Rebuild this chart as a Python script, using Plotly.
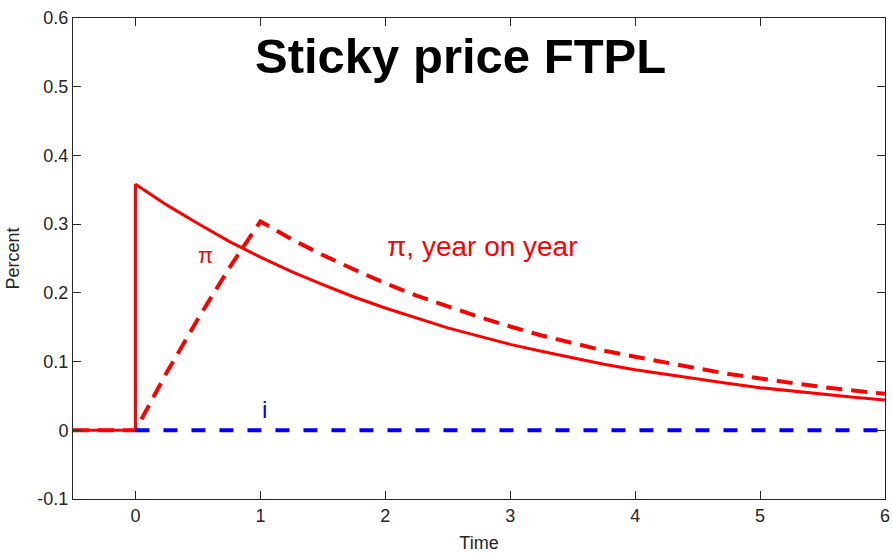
import plotly.graph_objects as go

# Time grid (years)
t_pi = [-0.5, 0, 0, 0.25, 0.5, 0.75, 1.0, 1.25, 1.5, 1.75, 2.0, 2.25, 2.5, 2.75, 3.0,
        3.25, 3.5, 3.75, 4.0, 4.25, 4.5, 4.75, 5.0, 5.25, 5.5, 5.75, 6.0]
# Inflation pi (percent)
pi_vals = [0, 0, 0.358, 0.328, 0.301, 0.275, 0.252, 0.231, 0.212, 0.194, 0.178, 0.163,
           0.149, 0.137, 0.125, 0.115, 0.105, 0.096, 0.088, 0.081, 0.074, 0.068, 0.062,
           0.057, 0.052, 0.048, 0.044]

t_yoy = [-0.5, 0, 0.25, 0.5, 0.75, 1.0, 1.25, 1.5, 1.75, 2.0, 2.25, 2.5, 2.75, 3.0,
         3.25, 3.5, 3.75, 4.0, 4.25, 4.5, 4.75, 5.0, 5.25, 5.5, 5.75, 6.0]
# Year-on-year inflation (percent)
yoy_vals = [0, 0, 0.084, 0.162, 0.236, 0.304, 0.278, 0.255, 0.234, 0.214, 0.196, 0.180,
            0.165, 0.151, 0.138, 0.127, 0.116, 0.107, 0.098, 0.090, 0.082, 0.075, 0.069,
            0.063, 0.058, 0.053]

# Nominal interest rate i
t_i = [0, 1, 2, 3, 4, 5, 6]
i_vals = [0, 0, 0, 0, 0, 0, 0]

x_ticks = [0, 1, 2, 3, 4, 5, 6]
x_tick_labels = ["0", "1", "2", "3", "4", "5", "6"]
y_ticks = [-0.1, 0, 0.1, 0.2, 0.3, 0.4, 0.5, 0.6]
y_tick_labels = ["-0.1", "0", "0.1", "0.2", "0.3", "0.4", "0.5", "0.6"]

FONT = "Liberation Sans, Arial, Helvetica, sans-serif"
AX = "#262626"

fig = go.Figure()
fig.add_trace(go.Scatter(x=t_pi, y=pi_vals, mode="lines",
                         line=dict(color="#ff0000", width=3), showlegend=False))
fig.add_trace(go.Scatter(x=t_yoy, y=yoy_vals, mode="lines",
                         line=dict(color="#ff0000", width=4, dash="16px,9px"), showlegend=False))
fig.add_trace(go.Scatter(x=t_i, y=i_vals, mode="lines",
                         line=dict(color="#0000ff", width=4, dash="14px,14px"), showlegend=False))

fig.add_annotation(x=0.56, y=0.254, text="π", showarrow=False,
                   font=dict(family=FONT, size=22, color="#ff0000"))
fig.add_annotation(x=2.0, y=0.267, text="π, year on year", showarrow=False, xanchor="left",
                   font=dict(family=FONT, size=28, color="#ff0000"))
fig.add_annotation(x=1.03, y=0.03, text="i", showarrow=False,
                   font=dict(family=FONT, size=24, color="#0000ff"))
fig.add_annotation(x=2.6, y=0.545, text="<b>Sticky price FTPL</b>", showarrow=False,
                   font=dict(family=FONT, size=49, color="#000000"))

axis_common = dict(showline=True, linecolor=AX, linewidth=1, mirror="ticks",
                   ticks="inside", ticklen=8, tickcolor=AX, tickwidth=1,
                   showgrid=False, zeroline=False, automargin=False,
                   tickfont=dict(family=FONT, size=18, color=AX))

fig.update_xaxes(range=[-0.5, 6], tickvals=x_ticks, ticktext=x_tick_labels,
                 title=dict(text="Time", font=dict(family=FONT, size=18, color=AX), standoff=11),
                 **axis_common)
fig.update_yaxes(range=[-0.1, 0.6], tickvals=y_ticks, ticktext=y_tick_labels,
                 title=dict(text="Percent", font=dict(family=FONT, size=18, color=AX), standoff=13),
                 **axis_common)

fig.update_layout(width=892, height=553, margin=dict(l=73, r=7, t=18, b=54),
                  plot_bgcolor="white", paper_bgcolor="white")

# Remove the browser's default body margin so the figure fills the 892x553 window exactly
fig.write_html("out.html", config={"displayModeBar": False},
               post_script="document.body.style.margin='0';document.body.style.overflow='hidden';")
